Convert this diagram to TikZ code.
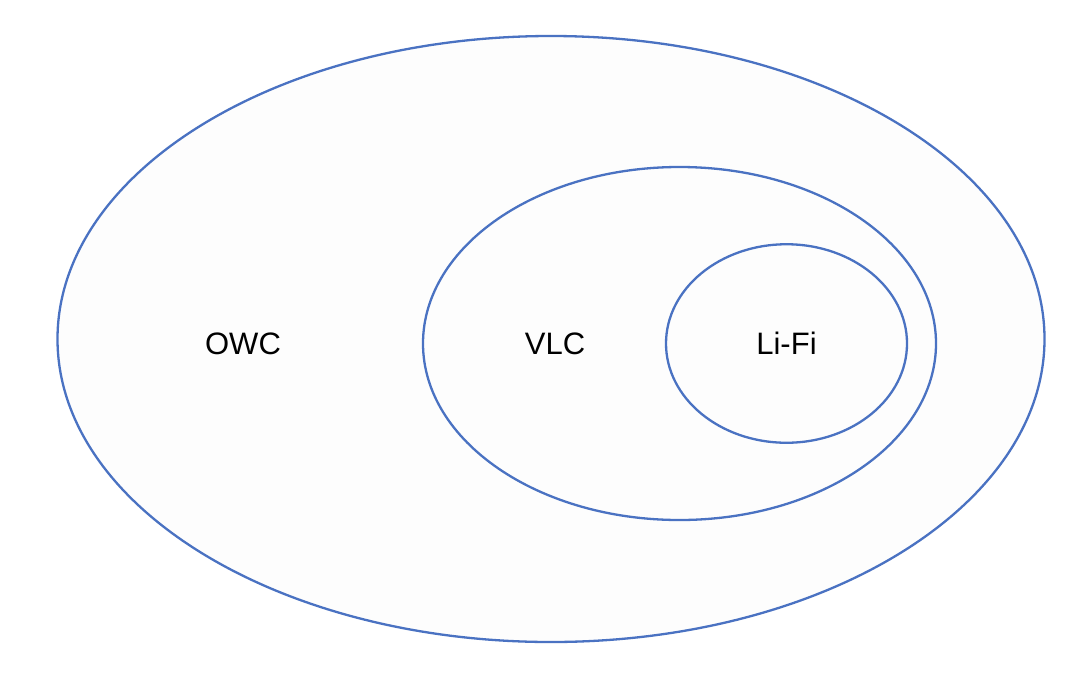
\documentclass[tikz,border=0pt]{standalone}
\usepackage{fontspec}
\setmainfont{Liberation Sans}
\usepackage{tikz}
\usetikzlibrary{shapes.geometric,positioning}
\definecolor{setblue}{HTML}{4A72C2}
\definecolor{setfill}{HTML}{FDFDFD}

\begin{document}
\begin{tikzpicture}[x=0.5pt,y=-0.5pt,every node/.style={font=\fontsize{15.5}{18}\selectfont}]
  \tikzstyle{set} = [ellipse,draw=setblue,line width=1.15pt,fill=setfill,inner sep=0pt];
  \tikzset{setname/.style={inner sep=0pt,text=black}};
  \useasboundingbox (0,0) rectangle (1080,675);
  \node[set,minimum width=987pt*0.5,minimum height=606pt*0.5] (owc) at (551,339) {};
  \node[set,minimum width=513pt*0.5,minimum height=353pt*0.5] (vlc) at (679.5,343.5) {};
  \node[set,minimum width=241pt*0.5,minimum height=198.5pt*0.5] (lifi) at (786.5,343.5) {};
  \node[setname] (owclabel) at (243,344) {OWC};
  \node[setname] (vlclabel) at (555,344) {VLC};
  \node[setname] (lifilabel) at (lifi) {Li-Fi};
\end{tikzpicture}
\end{document}
